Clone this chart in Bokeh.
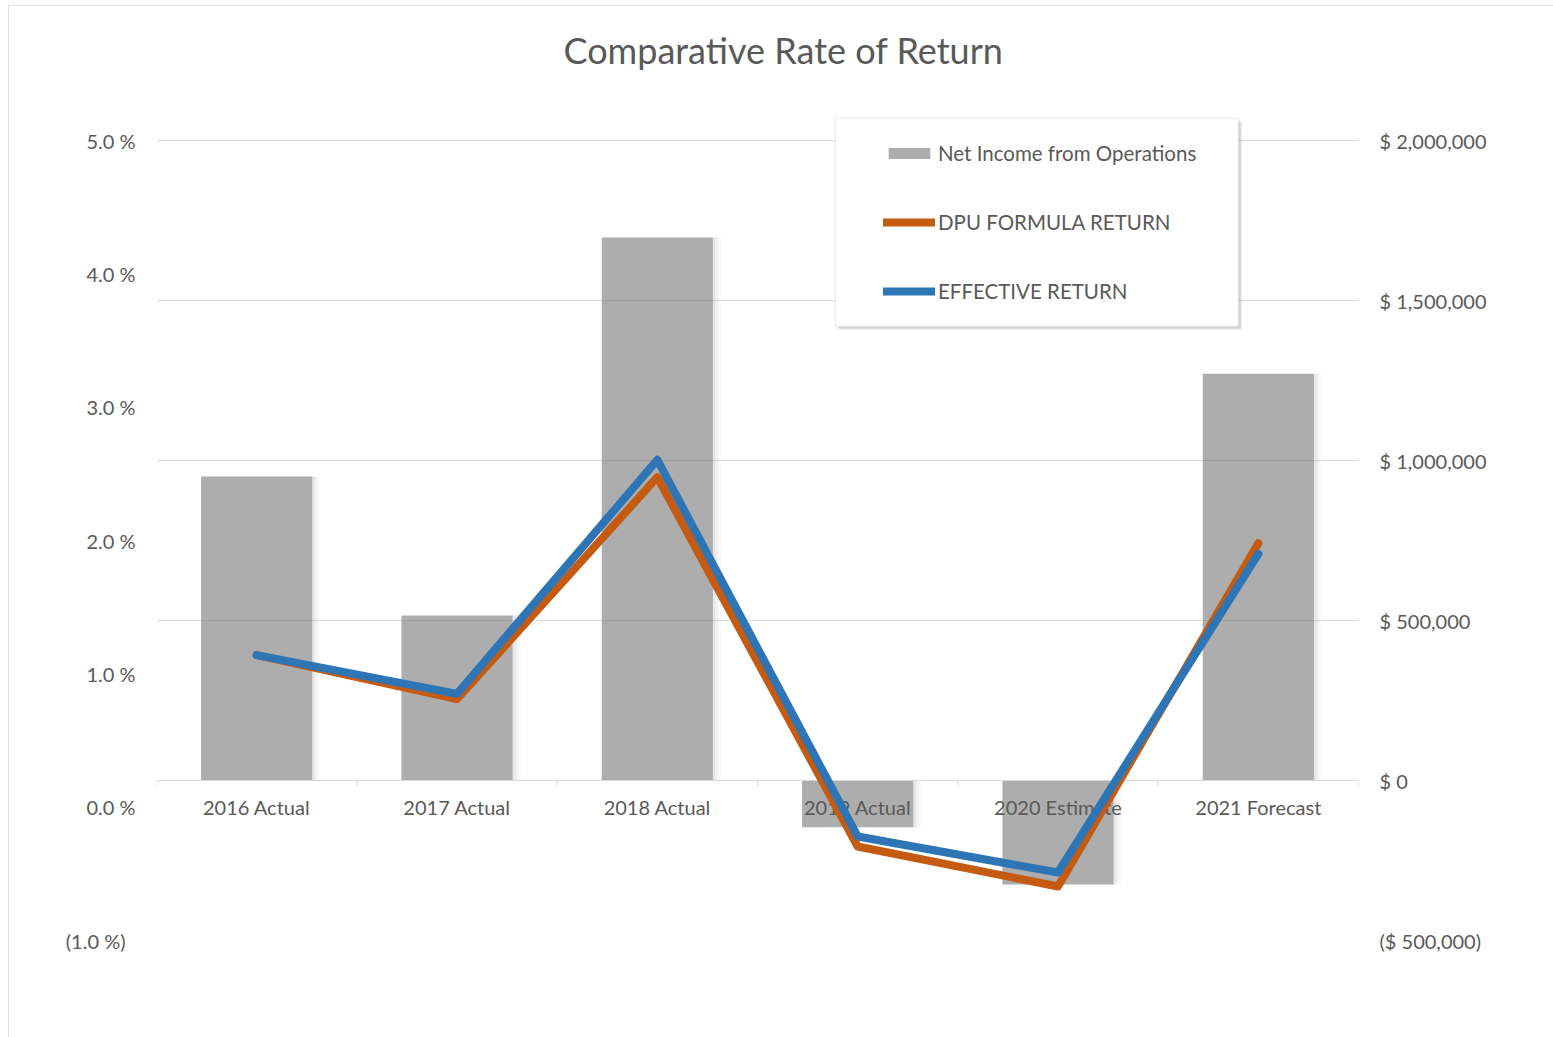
from bokeh.plotting import figure
from bokeh.models import (ColumnDataSource, FactorRange, Range1d, LinearAxis, FixedTicker,
                          Legend, LegendItem, Label, BoxAnnotation)
from bokeh.transform import dodge
from bokeh.embed import file_html
from bokeh.resources import INLINE

# ---------------- data ----------------
categories = ["2016 Actual", "2017 Actual", "2018 Actual", "2019 Actual", "2020 Estimate", "2021 Forecast"]
net_income = [950000, 516000, 1697000, -146000, -325000, 1271000]
dpu_return = [1.14, 0.81, 2.475, -0.295, -0.595, 1.98]
effective_return = [1.14, 0.85, 2.605, -0.22, -0.49, 1.90]

dollar_ticks = [-500000, 0, 500000, 1000000, 1500000, 2000000]
dollar_labels = ["($ 500,000)", "$ 0", "$ 500,000", "$ 1,000,000", "$ 1,500,000", "$ 2,000,000"]
pct_ticks = [-1, 0, 1, 2, 3, 4, 5]
pct_labels = ["(1.0 %)\u2002", "0.0 %", "1.0 %", "2.0 %", "3.0 %", "4.0 %", "5.0 %"]

FONT = "Lato"
TXT = "#595959"
GRID = "#d9d9d9"
BAR_W = 0.555

# layout (page pixels)
FIG_X, FIG_Y = 8, 5          # chart placement on the page
FRAME_L, FRAME_R = 156, 1358  # plot area
GRID_TOP, GRID_BOT = 140, 940  # outer grid lines
FRAME_T = 15                  # frame extends above grid (room for title/legend)
FIG_W, FIG_H = 1553 - FIG_X, 1037 - FIG_Y

d_lo, d_hi = dollar_ticks[0], dollar_ticks[-1]
p_lo, p_hi = pct_ticks[0], pct_ticks[-1]
d_per_px = (d_hi - d_lo) / (GRID_BOT - GRID_TOP)
p_per_px = (p_hi - p_lo) / (GRID_BOT - GRID_TOP)
extra_px = GRID_TOP - FRAME_T

src = ColumnDataSource(dict(cat=categories, income=net_income, dpu=dpu_return, eff=effective_return,
                            zero=[0] * len(categories)))

p = figure(x_range=FactorRange(*categories), y_range=Range1d(d_lo, d_hi + extra_px * d_per_px),
           width=FIG_W, height=FIG_H, output_backend="svg", toolbar_location=None,
           y_axis_location="right",
           min_border_left=FRAME_L - FIG_X, min_border_right=FIG_X + FIG_W - FRAME_R,
           min_border_top=FRAME_T - FIG_Y, min_border_bottom=FIG_Y + FIG_H - GRID_BOT)
p.styles = {"margin-left": f"{FIG_X}px", "margin-top": f"{FIG_Y}px",
            "outline": "2px solid #d9d9d9", "outline-offset": "-2px"}
p.outline_line_color = None
p.extra_y_ranges = {"pct": Range1d(p_lo, p_hi + extra_px * p_per_px)}

# grid
p.xgrid.grid_line_color = None
p.ygrid.grid_line_color = GRID
p.ygrid.grid_line_width = 1

# right axis (dollars)
ra = p.yaxis[0]
ra.ticker = FixedTicker(ticks=dollar_ticks)
ra.major_label_overrides = dict(zip(dollar_ticks, dollar_labels))

# left axis (percent)
la = LinearAxis(y_range_name="pct", ticker=FixedTicker(ticks=pct_ticks),
                major_label_overrides=dict(zip(pct_ticks, pct_labels)))
p.add_layout(la, "left")

for ax in (ra, la):
    ax.axis_line_color = None
    ax.major_tick_line_color = None
    ax.minor_tick_line_color = None
    ax.major_tick_out = 0
    ax.major_label_standoff = 21
    ax.major_label_text_font = FONT
    ax.major_label_text_font_size = "20px"
    ax.major_label_text_color = TXT

# x axis at zero
xa = p.xaxis[0]
xa.fixed_location = 0
xa.axis_line_color = GRID
xa.axis_line_width = 1
xa.major_tick_line_color = None
xa.minor_tick_line_color = None
xa.major_tick_out = 0
xa.major_label_standoff = 14
xa.major_label_text_font = FONT
xa.major_label_text_font_size = "20px"
xa.major_label_text_color = TXT

# boundary ticks on category axis
tick_len = 6 * d_per_px
p.segment(x0=dodge("cat", -0.5, range=p.x_range), x1=dodge("cat", -0.5, range=p.x_range),
          y0=0, y1=-tick_len, source=src, line_color=GRID, line_width=1)
p.segment(x0=dodge("cat", 0.5, range=p.x_range), x1=dodge("cat", 0.5, range=p.x_range),
          y0=0, y1=-tick_len, source=ColumnDataSource(dict(cat=categories[-1:])),
          line_color=GRID, line_width=1)

# bar soft shadows (right side)
for k, a in enumerate([0.20, 0.13, 0.08, 0.04]):
    p.vbar(x=dodge("cat", BAR_W / 2 + 0.005 + 0.01 * k, range=p.x_range), top="income", bottom="zero",
           width=0.01, source=src, fill_color="#7f7f7f", fill_alpha=a, line_color=None)

bars = p.vbar(x="cat", top="income", bottom="zero", width=BAR_W, source=src,
              fill_color="#7f7f7f", fill_alpha=0.64, line_color=None)

l_dpu = p.line(x="cat", y="dpu", source=src, y_range_name="pct", line_color="#C55A11", line_width=8,
               line_cap="round", line_join="round", level="annotation")
l_eff = p.line(x="cat", y="eff", source=src, y_range_name="pct", line_color="#2E75B6", line_width=8,
               line_cap="round", line_join="round", level="annotation")

# legend box with shadow (screen units relative to frame: x from left, y up from bottom)
LB_L, LB_R, LB_T, LB_B = 835, 1238, 118, 326
box = dict(left=LB_L - FRAME_L, right=LB_R - FRAME_L, top=GRID_BOT - LB_T, bottom=GRID_BOT - LB_B)
for k, a in enumerate([0.10, 0.08, 0.06]):
    p.add_layout(BoxAnnotation(left=box["left"] + 2 + k, right=box["right"] + 2 + k,
                               top=box["top"] - 2 - k, bottom=box["bottom"] - 2 - k,
                               left_units="screen", right_units="screen", top_units="screen",
                               bottom_units="screen", fill_color="#404040", fill_alpha=a, line_color=None,
                               level="annotation"))
p.add_layout(BoxAnnotation(**box, left_units="screen", right_units="screen", top_units="screen",
                           bottom_units="screen", fill_color="white", fill_alpha=1.0,
                           line_color="#c8c8c8", line_width=1.5, level="annotation"))

legend = Legend(items=[LegendItem(label="Net Income from Operations", renderers=[bars]),
                       LegendItem(label="DPU FORMULA RETURN", renderers=[l_dpu]),
                       LegendItem(label="EFFECTIVE RETURN", renderers=[l_eff])],
                location=(883 - FRAME_L, GRID_BOT - 303), orientation="vertical", padding=0, margin=0,
                spacing=45, glyph_width=52, glyph_height=14, label_height=24, label_standoff=3,
                border_line_color=None, background_fill_alpha=0,
                label_text_font=FONT, label_text_font_size="20.5px", label_text_color=TXT)
p.add_layout(legend)

# title
p.add_layout(Label(x=783 - FRAME_L, y=GRID_BOT - 49, x_units="screen", y_units="screen",
                   text="Comparative Rate of Return",
                   text_align="center", text_baseline="middle", text_font=FONT, text_font_size="36px",
                   text_color=TXT))

open("out.html", "w").write(file_html(p, INLINE))
